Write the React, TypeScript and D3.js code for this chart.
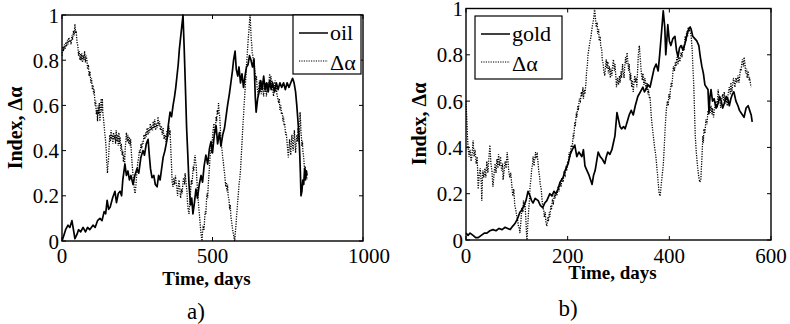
import React from "react";
import * as d3 from "d3";

// ---------- data (day, value) ----------
const oilSeries: [number, number][] = [
  [0,0.00],[5,0.02],[12,0.05],[20,0.07],[26,0.06],[33,0.09],[38,0.05],[43,0.01],[50,0.03],[55,0.05],[62,0.04],[70,0.06],[78,0.04],[85,0.06],[92,0.05],[103,0.07],[110,0.06],[118,0.09],[126,0.10],[133,0.09],[140,0.13],[145,0.12],[150,0.18],[155,0.14],[160,0.15],[168,0.19],[176,0.22],[181,0.17],[187,0.21],[193,0.22],[198,0.20],[202,0.27],[209,0.34],[214,0.29],[219,0.31],[224,0.27],[229,0.29],[236,0.25],[242,0.29],[249,0.32],[255,0.30],[262,0.37],[269,0.40],[274,0.38],[280,0.43],[286,0.45],[290,0.38],[294,0.32],[299,0.28],[305,0.29],[310,0.25],[316,0.24],[321,0.29],[326,0.27],[331,0.32],[336,0.37],[342,0.40],[349,0.45],[353,0.51],[359,0.57],[364,0.55],[369,0.60],[374,0.64],[378,0.68],[382,0.73],[386,0.78],[390,0.85],[394,0.90],[398,0.95],[402,1.00],[406,0.85],[410,0.68],[414,0.50],[418,0.38],[422,0.25],[427,0.16],[431,0.19],[435,0.12],[440,0.17],[445,0.23],[450,0.19],[456,0.25],[462,0.29],[467,0.26],[472,0.33],[478,0.38],[484,0.34],[490,0.41],[495,0.44],[500,0.39],[506,0.47],[512,0.51],[517,0.43],[523,0.48],[528,0.42],[534,0.47],[540,0.50],[545,0.55],[550,0.60],[556,0.65],[561,0.70],[566,0.75],[570,0.80],[575,0.84],[579,0.76],[584,0.73],[588,0.77],[593,0.70],[598,0.74],[603,0.68],[608,0.73],[613,0.77],[618,0.78],[623,0.82],[628,0.80],[633,0.77],[638,0.80],[642,0.64],[645,0.57],[650,0.63],[655,0.66],[660,0.71],[665,0.67],[670,0.73],[675,0.67],[680,0.70],[685,0.66],[690,0.71],[695,0.67],[700,0.70],[706,0.66],[712,0.70],[718,0.67],[724,0.70],[730,0.68],[736,0.70],[742,0.67],[748,0.70],[754,0.68],[760,0.70],[766,0.72],[771,0.70],[776,0.66],[780,0.60],[784,0.53],[787,0.47],[790,0.38],[792,0.30],[794,0.20],[797,0.22],[800,0.27],[803,0.25],[806,0.32],[809,0.27],[812,0.31],[814,0.29]
];

const oilAlpha: [number, number][] = [
  [0,0.82],[3,0.86],[5,0.84],[8,0.87],[10,0.85],[13,0.88],[15,0.86],[18,0.89],[20,0.87],[23,0.90],[25,0.88],[28,0.89],[30,0.87],[33,0.91],[35,0.89],[38,0.93],[40,0.91],[43,0.96],[45,0.92],[47,0.93],[50,0.88],[53,0.86],[55,0.82],[57,0.84],[60,0.80],[62,0.83],[64,0.80],[66,0.83],[68,0.79],[70,0.82],[73,0.80],[75,0.84],[78,0.79],[80,0.82],[83,0.80],[85,0.76],[88,0.78],[90,0.73],[93,0.75],[96,0.70],[98,0.72],[101,0.67],[103,0.69],[105,0.65],[107,0.67],[110,0.60],[112,0.62],[114,0.56],[116,0.58],[118,0.53],[120,0.60],[122,0.56],[124,0.61],[126,0.53],[128,0.58],[130,0.63],[132,0.57],[134,0.63],[136,0.56],[138,0.54],[140,0.51],[142,0.48],[145,0.44],[147,0.40],[148,0.36],[150,0.32],[151,0.30],[153,0.34],[155,0.37],[157,0.43],[159,0.47],[161,0.44],[163,0.49],[165,0.45],[167,0.47],[169,0.43],[171,0.48],[173,0.45],[176,0.47],[178,0.43],[180,0.49],[183,0.44],[185,0.47],[187,0.42],[189,0.48],[191,0.43],[193,0.46],[195,0.40],[197,0.43],[200,0.38],[202,0.40],[204,0.35],[206,0.38],[208,0.34],[210,0.41],[212,0.44],[214,0.48],[217,0.44],[219,0.47],[222,0.43],[224,0.46],[226,0.42],[228,0.45],[231,0.38],[233,0.34],[236,0.29],[238,0.27],[241,0.22],[243,0.21],[246,0.25],[248,0.29],[250,0.32],[252,0.35],[255,0.37],[257,0.40],[260,0.39],[262,0.43],[265,0.41],[267,0.44],[270,0.43],[272,0.47],[275,0.45],[278,0.48],[280,0.46],[283,0.50],[286,0.47],[288,0.50],[291,0.48],[293,0.52],[296,0.49],[298,0.51],[301,0.49],[303,0.53],[306,0.50],[308,0.54],[311,0.49],[313,0.52],[316,0.50],[319,0.55],[322,0.51],[324,0.53],[327,0.49],[330,0.51],[333,0.47],[336,0.50],[339,0.45],[342,0.47],[345,0.44],[349,0.49],[352,0.46],[355,0.51],[357,0.47],[359,0.49],[361,0.42],[364,0.33],[366,0.26],[369,0.24],[371,0.28],[374,0.25],[377,0.29],[379,0.26],[382,0.23],[384,0.20],[387,0.25],[389,0.27],[392,0.22],[394,0.19],[397,0.23],[399,0.21],[402,0.26],[404,0.28],[407,0.25],[409,0.30],[412,0.26],[415,0.22],[417,0.17],[419,0.14],[422,0.12],[424,0.16],[426,0.19],[428,0.24],[430,0.27],[432,0.25],[434,0.29],[436,0.33],[438,0.31],[440,0.36],[442,0.38],[444,0.35],[446,0.33],[448,0.27],[450,0.23],[452,0.19],[455,0.14],[457,0.11],[460,0.06],[462,0.03],[465,0.00],[467,0.04],[469,0.06],[472,0.05],[474,0.10],[476,0.13],[478,0.12],[480,0.18],[482,0.21],[484,0.19],[486,0.25],[488,0.29],[490,0.33],[492,0.37],[495,0.41],[497,0.39],[500,0.46],[502,0.49],[505,0.52],[507,0.47],[510,0.50],[512,0.55],[514,0.53],[516,0.58],[518,0.56],[520,0.61],[522,0.57],[524,0.55],[526,0.50],[528,0.45],[530,0.42],[532,0.40],[534,0.37],[536,0.35],[538,0.32],[540,0.30],[542,0.27],[544,0.24],[546,0.26],[548,0.22],[550,0.25],[552,0.20],[555,0.18],[557,0.14],[559,0.16],[561,0.11],[563,0.09],[566,0.06],[568,0.04],[570,0.03],[572,0.01],[574,0.00],[576,0.04],[578,0.07],[580,0.11],[582,0.14],[584,0.18],[586,0.21],[588,0.25],[590,0.27],[593,0.31],[595,0.36],[597,0.41],[599,0.46],[601,0.51],[603,0.55],[605,0.60],[607,0.64],[609,0.69],[611,0.73],[613,0.78],[615,0.82],[617,0.86],[619,0.90],[621,0.93],[623,0.97],[625,1.00],[627,0.94],[629,0.89],[631,0.86],[632,0.83],[634,0.82],[636,0.79],[638,0.81],[640,0.76],[642,0.74],[644,0.71],[646,0.73],[648,0.68],[650,0.66],[652,0.64],[654,0.68],[656,0.71],[658,0.66],[660,0.69],[662,0.65],[665,0.71],[667,0.67],[670,0.64],[672,0.69],[675,0.66],[677,0.70],[679,0.64],[681,0.67],[684,0.70],[686,0.66],[688,0.71],[690,0.74],[692,0.70],[694,0.73],[696,0.69],[698,0.71],[700,0.67],[703,0.64],[705,0.69],[708,0.71],[710,0.66],[712,0.68],[714,0.65],[717,0.63],[720,0.61],[722,0.63],[724,0.58],[727,0.60],[729,0.56],[732,0.57],[734,0.53],[736,0.55],[738,0.51],[740,0.52],[743,0.47],[745,0.48],[748,0.43],[750,0.40],[752,0.37],[754,0.41],[756,0.45],[758,0.41],[760,0.38],[762,0.44],[764,0.47],[766,0.42],[768,0.40],[770,0.45],[772,0.49],[774,0.44],[776,0.39],[778,0.43],[780,0.47],[782,0.44],[784,0.50],[786,0.46],[788,0.43],[790,0.52],[791,0.57],[793,0.52],[794,0.48],[796,0.45],[797,0.42],[799,0.44],[800,0.40],[802,0.38],[804,0.35],[806,0.31],[808,0.33],[810,0.28],[812,0.30],[814,0.27]
];

const goldSeries: [number, number][] = [
  [0,0.03],[4,0.02],[8,0.03],[14,0.02],[19,0.01],[24,0.01],[30,0.02],[36,0.03],[41,0.03],[47,0.04],[53,0.045],[59,0.04],[65,0.05],[71,0.045],[77,0.055],[82,0.05],[87,0.045],[92,0.06],[96,0.07],[101,0.09],[106,0.12],[110,0.13],[114,0.15],[118,0.17],[122,0.21],[126,0.19],[129,0.17],[132,0.16],[136,0.18],[142,0.17],[146,0.15],[151,0.14],[155,0.16],[159,0.17],[165,0.20],[169,0.19],[173,0.21],[177,0.20],[181,0.22],[185,0.25],[191,0.27],[195,0.30],[201,0.33],[205,0.37],[209,0.39],[214,0.41],[218,0.36],[222,0.38],[228,0.36],[231,0.39],[234,0.32],[238,0.30],[242,0.28],[245,0.26],[248,0.24],[251,0.28],[254,0.30],[257,0.34],[260,0.38],[264,0.36],[268,0.35],[273,0.33],[276,0.36],[279,0.38],[283,0.37],[287,0.39],[290,0.42],[293,0.45],[295,0.50],[297,0.55],[300,0.52],[303,0.49],[306,0.48],[310,0.49],[313,0.48],[317,0.51],[321,0.54],[325,0.56],[329,0.54],[333,0.58],[338,0.62],[343,0.64],[348,0.66],[351,0.64],[354,0.65],[358,0.67],[362,0.66],[366,0.70],[370,0.74],[374,0.76],[378,0.73],[381,0.80],[384,0.88],[388,0.99],[391,0.92],[393,0.80],[395,0.86],[397,0.93],[400,0.86],[403,0.84],[407,0.87],[411,0.88],[414,0.82],[417,0.79],[420,0.83],[423,0.84],[427,0.82],[431,0.85],[435,0.89],[438,0.91],[441,0.92],[443,0.91],[446,0.88],[450,0.87],[454,0.86],[458,0.84],[461,0.79],[464,0.75],[467,0.72],[470,0.67],[473,0.66],[476,0.65],[478,0.55],[480,0.62],[482,0.65],[485,0.60],[488,0.61],[492,0.57],[496,0.59],[499,0.62],[502,0.60],[505,0.57],[508,0.59],[512,0.62],[515,0.61],[518,0.58],[521,0.61],[524,0.63],[527,0.64],[531,0.60],[535,0.58],[538,0.56],[541,0.55],[544,0.54],[547,0.53],[551,0.57],[555,0.58],[558,0.56],[561,0.54],[563,0.51]
];

const goldAlpha: [number, number][] = [
  [0,0.60],[1,0.55],[2,0.50],[3,0.44],[4,0.40],[6,0.36],[8,0.39],[10,0.34],[12,0.37],[14,0.43],[16,0.36],[18,0.39],[20,0.33],[22,0.36],[24,0.22],[26,0.28],[28,0.31],[30,0.25],[31,0.17],[33,0.30],[35,0.27],[37,0.31],[39,0.27],[41,0.34],[43,0.29],[45,0.35],[47,0.41],[49,0.33],[51,0.30],[53,0.23],[55,0.28],[57,0.33],[59,0.29],[61,0.35],[63,0.31],[64,0.37],[66,0.32],[68,0.36],[70,0.30],[72,0.33],[73,0.26],[75,0.30],[77,0.34],[79,0.31],[81,0.38],[83,0.33],[84,0.30],[86,0.27],[88,0.29],[90,0.24],[92,0.19],[94,0.22],[96,0.15],[98,0.13],[100,0.10],[102,0.08],[103,0.06],[105,0.05],[106,0.03],[108,0.08],[110,0.14],[112,0.12],[113,0.17],[115,0.14],[116,0.16],[118,0.08],[119,0.03],[120,0.00],[122,0.08],[123,0.12],[125,0.18],[126,0.23],[128,0.27],[129,0.30],[131,0.33],[132,0.36],[134,0.32],[135,0.35],[137,0.38],[138,0.36],[140,0.37],[142,0.33],[143,0.30],[145,0.27],[146,0.24],[148,0.22],[149,0.19],[151,0.14],[153,0.13],[154,0.10],[156,0.12],[157,0.08],[159,0.06],[161,0.10],[162,0.08],[164,0.12],[165,0.10],[167,0.15],[168,0.13],[170,0.17],[172,0.16],[174,0.20],[175,0.18],[177,0.21],[179,0.19],[181,0.23],[183,0.21],[185,0.25],[187,0.23],[189,0.27],[191,0.25],[193,0.29],[195,0.28],[197,0.32],[198,0.30],[200,0.34],[201,0.33],[203,0.38],[205,0.36],[207,0.41],[209,0.40],[211,0.46],[212,0.44],[214,0.51],[215,0.49],[217,0.55],[218,0.53],[220,0.58],[221,0.56],[223,0.61],[225,0.60],[227,0.64],[228,0.62],[230,0.66],[231,0.61],[233,0.65],[234,0.63],[236,0.68],[237,0.72],[239,0.76],[240,0.80],[242,0.83],[244,0.86],[246,0.88],[247,0.90],[249,0.93],[250,0.94],[252,0.97],[253,1.00],[255,0.95],[256,0.92],[258,0.94],[259,0.89],[261,0.91],[262,0.86],[264,0.88],[265,0.84],[267,0.82],[268,0.78],[270,0.76],[271,0.73],[273,0.71],[274,0.74],[276,0.78],[277,0.74],[279,0.77],[280,0.72],[282,0.75],[284,0.70],[285,0.74],[287,0.71],[289,0.76],[290,0.78],[292,0.73],[293,0.76],[295,0.70],[296,0.66],[298,0.70],[300,0.67],[302,0.71],[303,0.68],[305,0.73],[306,0.70],[308,0.76],[309,0.73],[311,0.70],[312,0.74],[314,0.79],[315,0.76],[317,0.81],[318,0.78],[320,0.73],[321,0.76],[323,0.69],[324,0.72],[326,0.66],[327,0.69],[329,0.64],[330,0.67],[332,0.71],[333,0.68],[335,0.70],[336,0.66],[338,0.75],[339,0.80],[341,0.84],[342,0.81],[344,0.75],[345,0.72],[347,0.69],[348,0.72],[350,0.67],[352,0.70],[354,0.65],[356,0.68],[358,0.63],[359,0.65],[361,0.61],[362,0.62],[364,0.55],[365,0.52],[367,0.48],[368,0.46],[370,0.42],[371,0.40],[373,0.37],[374,0.35],[376,0.30],[377,0.28],[378,0.25],[380,0.20],[382,0.19],[384,0.24],[386,0.28],[388,0.32],[390,0.40],[392,0.49],[394,0.56],[396,0.60],[398,0.58],[399,0.63],[401,0.61],[402,0.65],[404,0.68],[405,0.66],[407,0.72],[408,0.75],[410,0.73],[412,0.77],[413,0.75],[415,0.79],[417,0.76],[419,0.79],[421,0.77],[423,0.81],[425,0.79],[427,0.84],[429,0.82],[431,0.88],[433,0.86],[434,0.90],[436,0.88],[437,0.92],[439,0.90],[440,0.91],[442,0.89],[443,0.88],[445,0.82],[446,0.76],[448,0.67],[449,0.60],[450,0.52],[451,0.45],[453,0.38],[455,0.33],[457,0.29],[458,0.27],[460,0.25],[462,0.26],[463,0.31],[464,0.35],[466,0.45],[467,0.42],[468,0.48],[470,0.46],[472,0.52],[474,0.50],[476,0.56],[478,0.54],[479,0.58],[481,0.55],[482,0.58],[484,0.54],[485,0.57],[487,0.53],[488,0.55],[490,0.58],[492,0.60],[494,0.57],[496,0.65],[498,0.60],[499,0.61],[501,0.57],[502,0.59],[504,0.62],[505,0.63],[507,0.60],[508,0.64],[510,0.59],[512,0.61],[514,0.58],[515,0.62],[517,0.65],[518,0.66],[520,0.63],[521,0.68],[523,0.64],[524,0.66],[526,0.70],[527,0.69],[529,0.66],[531,0.70],[533,0.68],[535,0.71],[537,0.68],[538,0.70],[540,0.74],[541,0.73],[543,0.77],[544,0.78],[546,0.75],[547,0.79],[549,0.76],[550,0.72],[552,0.74],[553,0.70],[555,0.73],[557,0.69],[558,0.70],[560,0.67],[561,0.66]
];

const yTicks = [0, 0.2, 0.4, 0.6, 0.8, 1];
const yTickLabels = ["0", "0.2", "0.4", "0.6", "0.8", "1"];
const xTicksA = [0, 500, 1000];
const xTicksB = [0, 200, 400, 600];

const FONT = "Liberation Serif, Tinos, Times New Roman, DejaVu Serif, serif";

type PanelProps = {
  x0: number; x1: number; yTop: number; yBot: number;
  xMax: number; xTicks: number[];
  solid: [number, number][]; dotted: [number, number][];
  legendName: string;
  legend: { x: number; y: number; w: number; h: number };
  xLabelY: number; caption: string; captionX: number; captionY: number;
  yLabelX: number; yLabelY: number;
  lastLabelShift?: number;
};

function Panel(p: PanelProps) {
  const x = d3.scaleLinear().domain([0, p.xMax]).range([p.x0, p.x1]);
  const y = d3.scaleLinear().domain([0, 1]).range([p.yBot, p.yTop]);
  const line = d3.line<[number, number]>().x((d) => x(d[0])).y((d) => y(d[1]));
  const tl = 4;
  const lg = p.legend;
  const ts = { fontFamily: FONT };
  return (
    <g>
      <path d={line(p.dotted) || ""} fill="none" stroke="#000" strokeWidth={1.3} strokeDasharray="1.2 1.3" />
      <path d={line(p.solid) || ""} fill="none" stroke="#000" strokeWidth={1.7} strokeLinejoin="round" />
      <rect x={p.x0} y={p.yTop} width={p.x1 - p.x0} height={p.yBot - p.yTop} fill="none" stroke="#000" strokeWidth={1.4} />
      {yTicks.map((t, i) => (
        <g key={"y" + i}>
          <line x1={p.x0} x2={p.x0 + tl} y1={y(t)} y2={y(t)} stroke="#000" />
          <line x1={p.x1} x2={p.x1 - tl} y1={y(t)} y2={y(t)} stroke="#000" />
          <text x={p.x0 - 3} y={y(t)} dy="0.36em" textAnchor="end" style={ts} fontSize={21}>{yTickLabels[i]}</text>
        </g>
      ))}
      {p.xTicks.map((t, i) => (
        <g key={"x" + i}>
          <line x1={x(t)} x2={x(t)} y1={p.yBot} y2={p.yBot - tl} stroke="#000" />
          <line x1={x(t)} x2={x(t)} y1={p.yTop} y2={p.yTop + tl} stroke="#000" />
          <text x={x(t) + (i === p.xTicks.length - 1 && p.lastLabelShift ? p.lastLabelShift : 0)} y={263} textAnchor="middle" style={ts} fontSize={21}>{String(t)}</text>
        </g>
      ))}
      <text x={(p.x0 + p.x1) / 2 - 6} y={p.xLabelY} textAnchor="middle" style={ts} fontSize={19} fontWeight="bold">Time, days</text>
      <text transform={`translate(${p.yLabelX},${p.yLabelY}) rotate(-90)`} textAnchor="middle" style={ts} fontSize={20} fontWeight="bold">Index, Δα</text>
      <text x={p.captionX} y={p.captionY} textAnchor="middle" style={ts} fontSize={23}>{p.caption}</text>
      <rect x={lg.x} y={lg.y} width={lg.w} height={lg.h} fill="#fff" stroke="#000" strokeWidth={1.2} />
      <line x1={lg.x + 6} x2={lg.x + 35} y1={lg.y + 18} y2={lg.y + 18} stroke="#000" strokeWidth={1.5} />
      <text x={lg.x + 37} y={lg.y + 25} style={ts} fontSize={22}>{p.legendName}</text>
      <line x1={lg.x + 6} x2={lg.x + 35} y1={lg.y + 46} y2={lg.y + 46} stroke="#000" strokeWidth={1.2} strokeDasharray="1.2 1.2" />
      <text x={lg.x + 37} y={lg.y + 55} style={ts} fontSize={22}>Δα</text>
    </g>
  );
}

export default function App() {
  return (
    <svg width={790} height={324} style={{ position: "absolute", left: 0, top: 0, background: "#fff" }}>
      <rect x={0} y={0} width={790} height={324} fill="#fff" />
      <Panel x0={62} x1={363} yTop={15} yBot={241} xMax={1000} xTicks={xTicksA}
        solid={oilSeries} dotted={oilAlpha} legendName="oil"
        legend={{ x: 293, y: 15, w: 68, h: 59 }}
        xLabelY={285} caption="a)" captionX={196} captionY={319}
        yLabelX={22} yLabelY={128} lastLabelShift={6} />
      <Panel x0={466} x1={771} yTop={8.5} yBot={240} xMax={600} xTicks={xTicksB}
        solid={goldSeries} dotted={goldAlpha} legendName="gold"
        legend={{ x: 475, y: 16, w: 87, h: 63 }}
        xLabelY={279} caption="b)" captionX={568} captionY={316}
        yLabelX={426} yLabelY={124} />
    </svg>
  );
}
